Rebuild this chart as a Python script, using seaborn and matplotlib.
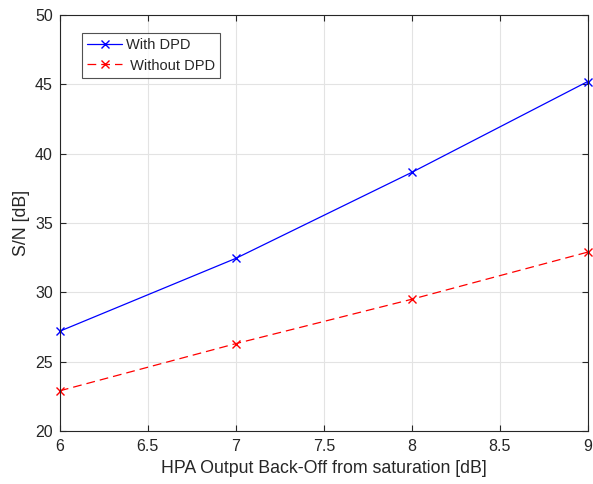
import matplotlib
matplotlib.use('Agg')
import matplotlib.pyplot as plt
import pandas as pd
import seaborn as sns

backoff_db = [6, 7, 8, 9]
sn_with_dpd = [27.2, 32.45, 38.65, 45.2]
sn_without_dpd = [22.9, 26.3, 29.5, 32.9]


def draw_plot():
    df = pd.DataFrame({'backoff': backoff_db, 'with': sn_with_dpd, 'without': sn_without_dpd})

    sns.set_theme(style='ticks')
    plt.rcParams['font.family'] = ['Liberation Sans', 'DejaVu Sans']

    fig = plt.figure(figsize=(5.93, 4.84), dpi=100)
    ax = fig.add_axes([0.101, 0.1095, 0.890, 0.8595])

    sns.lineplot(data=df, x='backoff', y='with', color='#0000ff', marker='x',
                 markersize=5.5, markeredgewidth=1, markeredgecolor='#0000ff',
                 linewidth=0.9, label='With DPD', clip_on=False, ax=ax)
    sns.lineplot(data=df, x='backoff', y='without', color='#ff0000', marker='x',
                 markersize=5.5, markeredgewidth=1, markeredgecolor='#ff0000',
                 linewidth=0.9, dashes=(7, 4), label=' Without DPD', clip_on=False, ax=ax)

    ax.set_xlim(6, 9)
    ax.set_ylim(20, 50)
    ax.set_xticks([6, 6.5, 7, 7.5, 8, 8.5, 9])
    ax.set_xticklabels(['6', '6.5', '7', '7.5', '8', '8.5', '9'])
    ax.set_yticks(range(20, 51, 5))
    ax.grid(True, color='#e3e3e3', linewidth=0.8)
    ax.tick_params(direction='in', length=4, width=0.8, colors='#262626',
                   labelsize=11.5, top=True, right=True, labeltop=False, labelright=False)
    ax.tick_params(axis='x', pad=6)
    ax.tick_params(axis='y', pad=5)
    for spine in ax.spines.values():
        spine.set_visible(True)
        spine.set_color('#262626')
        spine.set_linewidth(0.8)

    ax.set_xlabel('HPA Output Back-Off from saturation [dB]', fontsize=12.8, color='#262626', labelpad=4)
    ax.set_ylabel('S/N [dB]', fontsize=12.8, color='#262626', labelpad=4)

    leg = ax.legend(loc='upper left', bbox_to_anchor=(0.042, 0.957), borderaxespad=0,
                    fontsize=10.5, frameon=True, fancybox=False, edgecolor='#262626',
                    borderpad=0.35, labelspacing=0.45, handlelength=2.4, handletextpad=0.25)
    leg.get_frame().set_linewidth(0.8)

    fig.savefig('out.png', dpi=100)
    return fig


draw_plot()
